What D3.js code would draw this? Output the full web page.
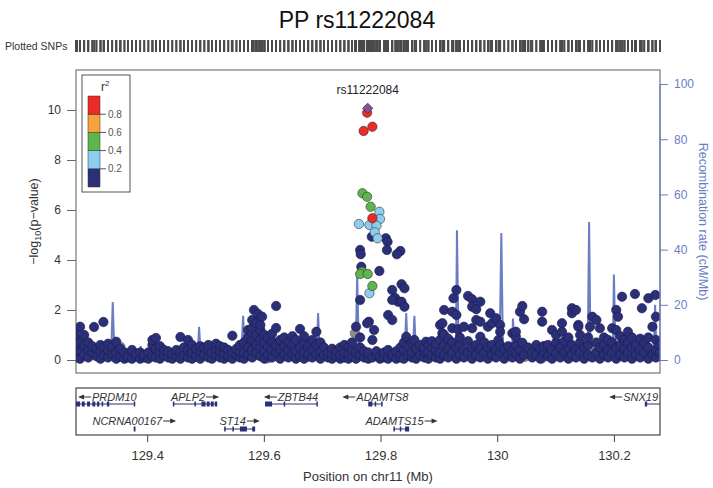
<!DOCTYPE html>
<html>
<head>
<meta charset="utf-8">
<script src="https://cdn.jsdelivr.net/npm/d3@7"></script>
<style>
  body { margin: 0; background: #fff; }
  svg { font-family: "Liberation Sans", Arial, sans-serif; }
</style>
</head>
<body>
<script>
// chart size
var svgWidth = 713;
var svgHeight = 488;

// main panel and gene panel edges
var panel = { left: 76, right: 660, top: 70, bottom: 373 };
var genePanel = { top: 388, bottom: 435 };

// ---- data (Mb, -log10 p) ----
var leadSnp = [129.778, 10.07];
var leadName = "rs11222084";

var ldRed = [[129.777, 9.89], [129.771, 9.16], [129.786, 9.33], [129.786, 5.67]];

var ldGreen = [[129.769, 6.67], [129.777, 6.53], [129.783, 6.13], [129.768, 3.53],
  [129.765, 3.44], [129.778, 3.44], [129.786, 2.96]];

var ldBlue = [[129.798, 5.93], [129.799, 5.64], [129.763, 5.44], [129.781, 5.40],
  [129.793, 5.37], [129.790, 5.11], [129.795, 4.87], [129.781, 2.67]];

var ldGray = [[129.280, 0.6], [129.354, 0.53], [129.354, 0.33], [129.545, 0.2], [129.607, 0.07],
  [129.676, 0.13], [129.756, 1.07], [129.844, 0.63], [130.048, 0.13], [130.057, 0.27],
  [130.053, 0.33], [130.074, 0.4], [130.077, 0.07], [130.159, 0.53], [130.266, 0.27]];

var ldNavyPeak = [[129.785, 4.93], [129.809, 4.87], [129.812, 4.73], [129.765, 4.40],
  [129.766, 4.23], [129.811, 4.40], [129.834, 4.36], [129.828, 4.23], [129.767, 3.73],
  [129.798, 3.56], [129.836, 3.03], [129.841, 2.87], [129.820, 2.80], [129.765, 2.40],
  [129.825, 2.48], [129.830, 2.33], [129.820, 2.40], [129.836, 2.33], [129.841, 2.13],
  [129.813, 1.80], [129.820, 1.60], [129.777, 1.47], [129.925, 2.47]];

var ldNavy = [
  [129.278,0.1],[129.278,0.5],[129.278,0.9],[129.278,1.2],
  [129.285,0.3],[129.285,0.7],[129.285,1.33],[129.285,0.05],
  [129.292,0.2],[129.292,0.6],[129.292,1.0],
  [129.299,0.1],[129.299,0.4],[129.299,0.7],
  [129.306,0.3],[129.306,0.55],[129.309,1.32],
  [129.313,0.15],[129.313,0.45],
  [129.320,0.05],[129.320,0.35],[129.320,0.6],
  [129.325,1.52],[129.326,0.2],[129.326,0.5],
  [129.333,0.1],[129.333,0.4],[129.333,0.65],
  [129.340,0.25],[129.340,0.55],
  [129.347,0.05],[129.347,0.3],[129.347,0.73],
  [129.354,0.15],[129.354,0.45],
  [129.361,0.05],[129.361,0.3],
  [129.367,0.2],[129.367,0.1],
  [129.374,0.05],[129.374,0.4],
  [129.381,0.15],[129.381,0.25],
  [129.388,0.05],[129.388,0.3],
  [129.395,0.1],[129.395,0.2],
  [129.402,0.05],[129.402,0.3],
  [129.409,0.15],[129.409,0.6],[129.409,0.8],
  [129.415,0.1],[129.415,0.45],[129.415,0.88],
  [129.422,0.05],[129.422,0.3],[129.422,0.55],
  [129.429,0.2],[129.429,0.4],
  [129.436,0.1],[129.436,0.35],
  [129.443,0.05],[129.443,0.25],
  [129.450,0.15],[129.450,0.4],
  [129.457,0.05],[129.457,0.3],[129.457,0.92],
  [129.463,0.2],[129.463,0.5],
  [129.470,0.1],[129.470,0.4],[129.470,0.8],
  [129.477,0.05],[129.477,0.3],[129.477,0.6],
  [129.484,0.15],[129.484,0.45],
  [129.491,0.05],[129.491,0.35],[129.491,0.55],
  [129.498,0.2],[129.498,0.5],
  [129.505,0.1],[129.505,0.4],[129.505,0.6],
  [129.511,0.05],[129.511,0.3],
  [129.518,0.2],[129.518,0.45],[129.518,0.65],
  [129.525,0.1],[129.525,0.35],[129.525,0.55],
  [129.532,0.05],[129.532,0.25],[129.532,0.5],
  [129.539,0.15],[129.539,0.4],
  [129.546,0.05],[129.546,0.3],[129.546,0.97],
  [129.553,0.2],[129.553,0.45],
  [129.559,0.1],[129.559,0.35],[129.559,0.6],
  [129.566,0.05],[129.566,0.3],[129.566,0.7],
  [129.573,0.2],[129.573,0.5],[129.573,0.9],[129.573,1.2],
  [129.580,0.1],[129.580,0.4],[129.580,0.8],[129.580,1.1],[129.580,1.28],[129.580,1.6],
  [129.583,2.0],
  [129.587,0.3],[129.587,0.6],[129.587,1.0],[129.587,1.47],
  [129.590,1.84],
  [129.594,0.15],[129.594,0.5],[129.594,0.8],[129.594,1.2],[129.594,1.4],
  [129.597,1.73],
  [129.601,0.05],[129.601,0.35],[129.601,0.7],[129.601,1.0],
  [129.607,0.2],[129.607,0.55],[129.607,0.9],
  [129.614,0.1],[129.614,0.4],[129.614,0.75],[129.614,1.05],
  [129.621,0.3],[129.621,0.6],[129.621,1.28],[129.621,2.16],
  [129.628,0.05],[129.628,0.45],[129.628,0.8],
  [129.635,0.2],[129.635,0.55],[129.635,0.9],
  [129.642,0.1],[129.642,0.4],[129.642,0.7],
  [129.649,0.25],[129.649,0.6],[129.649,0.95],
  [129.655,0.05],[129.655,0.35],[129.655,0.8],
  [129.662,0.15],[129.662,0.5],[129.662,1.24],
  [129.669,0.05],[129.669,0.3],[129.669,0.7],[129.669,0.95],
  [129.676,0.2],[129.676,0.55],
  [129.683,0.1],[129.683,0.4],[129.683,0.8],
  [129.690,0.25],[129.690,0.6],[129.690,1.13],
  [129.697,0.05],[129.697,0.35],[129.697,0.7],
  [129.703,0.2],[129.703,0.5],
  [129.710,0.1],[129.710,0.3],
  [129.717,0.05],[129.717,0.25],[129.717,0.45],
  [129.724,0.15],[129.724,0.35],
  [129.731,0.05],[129.731,0.2],[129.731,0.5],
  [129.738,0.1],[129.738,0.3],[129.738,0.6],
  [129.745,0.05],[129.745,0.25],[129.745,0.53],
  [129.751,0.15],[129.751,0.4],[129.751,0.7],
  [129.758,0.05],[129.758,0.3],[129.758,1.33],
  [129.765,0.2],[129.765,0.5],[129.765,0.9],
  [129.772,0.1],[129.772,0.35],
  [129.779,0.05],[129.779,0.3],[129.780,1.53],
  [129.786,0.1],[129.786,0.8],[129.789,1.2],
  [129.793,0.2],[129.793,0.35],
  [129.799,0.05],[129.799,0.15],
  [129.806,0.1],[129.806,0.3],
  [129.813,0.05],[129.813,0.4],
  [129.820,0.15],[129.820,0.2],
  [129.827,0.05],[129.827,0.35],
  [129.834,0.1],[129.834,0.25],[129.834,0.5],
  [129.840,0.05],[129.840,0.4],[129.840,0.7],
  [129.844,0.93],
  [129.847,0.2],[129.847,0.55],
  [129.854,0.1],[129.854,0.3],[129.854,0.7],
  [129.858,0.8],
  [129.861,0.05],[129.861,0.45],
  [129.868,0.2],[129.868,0.6],
  [129.875,0.1],[129.875,0.35],[129.875,0.5],
  [129.878,0.73],
  [129.882,0.05],[129.882,0.3],[129.882,0.6],
  [129.888,0.2],[129.888,0.5],[129.888,0.75],
  [129.895,0.1],[129.895,0.4],[129.895,0.65],
  [129.902,0.05],[129.902,0.3],[129.902,0.8],[129.902,1.4],
  [129.906,1.07],[129.906,1.47],
  [129.909,0.2],[129.909,0.6],[129.909,1.0],[129.909,2.0],
  [129.916,0.1],[129.916,0.45],[129.916,0.85],
  [129.923,0.3],[129.923,0.7],[129.923,1.27],[129.923,1.93],
  [129.930,0.05],[129.930,0.5],[129.930,1.8],[129.930,2.8],
  [129.933,1.23],
  [129.936,0.2],[129.936,0.6],[129.936,0.9],
  [129.943,0.1],[129.943,0.4],[129.943,1.33],
  [129.950,0.3],[129.950,0.75],[129.950,2.56],
  [129.957,0.05],[129.957,0.5],[129.957,1.27],[129.957,2.43],[129.957,2.13],
  [129.964,0.2],[129.964,0.6],[129.964,1.6],[129.964,2.03],
  [129.971,0.1],[129.971,0.45],[129.971,0.93],[129.971,1.53],[129.971,2.33],
  [129.978,0.3],[129.978,0.7],
  [129.984,0.05],[129.984,0.5],[129.984,1.33],
  [129.988,1.87],
  [129.991,0.2],[129.991,0.6],[129.991,1.47],
  [129.998,0.1],[129.998,0.4],[129.998,1.67],
  [130.002,0.8],
  [130.005,0.3],[130.005,0.6],[130.005,1.4],[130.005,1.13],
  [130.012,0.05],[130.012,0.45],
  [130.019,0.2],[130.019,0.55],
  [130.026,0.1],[130.026,0.35],[130.026,1.07],
  [130.032,0.3],[130.032,0.6],[130.032,0.93],[130.032,1.13],
  [130.039,0.05],[130.039,0.4],[130.039,1.93],
  [130.043,2.16],[130.043,0.69],
  [130.046,0.2],[130.046,1.63],
  [130.053,0.5],
  [130.060,0.1],[130.060,0.3],
  [130.067,0.2],[130.067,0.6],
  [130.074,0.05],[130.074,0.45],
  [130.077,1.93],[130.077,1.53],
  [130.080,0.3],[130.080,0.56],
  [130.087,0.15],[130.087,0.6],
  [130.094,0.05],[130.094,0.4],[130.094,1.2],
  [130.101,0.25],[130.101,0.7],[130.101,1.0],
  [130.108,0.1],[130.108,0.5],
  [130.111,1.47],[130.111,1.13],
  [130.115,0.3],[130.115,0.75],
  [130.122,0.05],[130.122,0.45],[130.122,0.9],
  [130.128,0.2],[130.128,0.6],[130.128,2.07],[130.128,1.87],
  [130.135,0.1],[130.135,0.4],[130.135,2.0],
  [130.139,1.4],[130.139,1.33],
  [130.142,0.3],[130.142,0.7],[130.142,1.0],
  [130.149,0.05],[130.149,0.5],
  [130.156,0.2],[130.156,0.6],[130.156,0.9],
  [130.159,1.33],
  [130.163,0.1],[130.163,1.73],
  [130.170,0.3],[130.170,0.7],[130.170,1.6],
  [130.176,0.05],[130.176,0.5],[130.176,1.27],
  [130.183,0.2],[130.183,0.6],[130.183,0.9],
  [130.190,0.1],[130.190,0.4],[130.190,0.8],
  [130.197,0.3],[130.197,0.7],[130.197,1.27],
  [130.204,0.05],[130.204,0.5],[130.204,2.0],[130.204,1.2],
  [130.207,1.73],
  [130.211,0.2],[130.211,0.6],[130.211,0.95],
  [130.214,2.53],
  [130.218,0.1],[130.218,0.45],[130.218,0.8],
  [130.224,0.3],[130.224,0.7],[130.224,1.13],
  [130.231,0.05],[130.231,0.5],[130.231,0.9],
  [130.236,2.64],
  [130.238,0.2],[130.238,0.6],
  [130.245,0.1],[130.245,0.4],[130.245,0.85],
  [130.248,2.07],
  [130.252,0.3],[130.252,0.7],
  [130.259,0.05],[130.259,0.5],[130.259,2.47],[130.259,0.9],
  [130.266,0.2],[130.266,1.33],
  [130.271,2.6],
  [130.272,0.1],[130.272,0.4],[130.272,1.73],[130.272,0.8],
  [130.279,0.3],[130.279,0.6]
];

// recombination rate (Mb, cM/Mb)
var recombPos = [129.278, 129.338, 129.341, 129.344, 129.386, 129.389, 129.391, 129.392, 129.394,
  129.486, 129.489, 129.492, 129.561, 129.5645, 129.567, 129.600, 129.650, 129.690, 129.693, 129.696,
  129.757, 129.760, 129.763, 129.800, 129.841, 129.844, 129.847, 129.855, 129.858, 129.861,
  129.929, 129.931, 129.934, 130.004, 130.007, 130.010, 130.025, 130.027, 130.030, 130.100,
  130.155, 130.1575, 130.160, 130.198, 130.200, 130.203, 130.268, 130.2706, 130.273, 130.279];
var recombRate = [1.0, 0.8, 21, 0.8, 2, 5, 1, 4, 1,
  0.5, 12, 0.5, 1, 16, 1, 0.3, 0.3, 0.5, 17, 0.5,
  1, 31, 1, 0.5, 1, 17, 1, 1, 16, 1,
  0.5, 47, 0.5, 0.5, 46, 0.5, 1, 15, 1, 1,
  1, 50, 1, 1, 31, 1, 1, 20, 1, 1];

// genes
var geneNames  = ["PRDM10", "APLP2", "ZBTB44", "ADAMTS8", "SNX19", "NCRNA00167", "ST14", "ADAMTS15"];
var geneStart  = [129.278, 129.444, 129.602, 129.779, 130.253, 129.377, 129.532, 129.823];
var geneEnd    = [129.379, 129.520, 129.691, 129.803, 130.320, 129.379, 129.585, 129.849];
var geneStrand = ["-", "+", "-", "-", "-", "+", "+", "+"];
var geneRow    = [0, 0, 0, 0, 0, 1, 1, 1];
var geneExons  = [
  [[129.278,129.285],[129.288,129.293],[129.297,129.302],[129.306,129.311],[129.314,129.318],[129.322,129.324],[129.331,129.335],[129.377,129.379]],
  [[129.444,129.446],[129.481,129.483],[129.493,129.500],[129.502,129.507],[129.509,129.514],[129.516,129.520]],
  [[129.602,129.614],[129.634,129.636],[129.690,129.691]],
  [[129.779,129.786],[129.790,129.792],[129.801,129.803]],
  [[130.253,130.257]],
  [[129.377,129.380]],
  [[129.532,129.533],[129.546,129.548],[129.559,129.571],[129.580,129.585]],
  [[129.822,129.824],[129.833,129.835],[129.842,129.849]]
];

// ticks and legend
var leftTicks = [0, 2, 4, 6, 8, 10];
var rightTicks = [0, 20, 40, 60, 80, 100];
var xTicks = [129.4, 129.6, 129.8, 130, 130.2];
var ldColors = ["#2b2f78", "#8ccdf0", "#5db54b", "#f6a43a", "#ec2a26"];
var ldBreaks = ["0.2", "0.4", "0.6", "0.8"];

// ---- scales ----
var xScale = d3.scaleLinear().domain([129.278, 130.279]).range([panel.left, panel.right]);
var yScale = d3.scaleLinear().domain([-0.52, 11.6]).range([panel.bottom, panel.top]);
var yRecomb = d3.scaleLinear().domain([-4.71, 105.1]).range([panel.bottom, panel.top]);

var svg = d3.select("body").append("svg")
  .attr("width", svgWidth)
  .attr("height", svgHeight);

var defs = svg.append("defs");
defs.append("clipPath").attr("id", "clipMain")
  .append("rect")
  .attr("x", panel.left).attr("y", panel.top)
  .attr("width", panel.right - panel.left).attr("height", panel.bottom - panel.top);
defs.append("clipPath").attr("id", "clipGene")
  .append("rect")
  .attr("x", panel.left).attr("y", genePanel.top)
  .attr("width", panel.right - panel.left).attr("height", genePanel.bottom - genePanel.top);

// title
svg.append("text")
  .attr("x", 357).attr("y", 28)
  .attr("text-anchor", "middle")
  .style("font-size", "23px")
  .attr("fill", "#111")
  .text("PP rs11222084");

// plotted SNPs rug
var allSnps = [].concat(ldNavy, ldNavyPeak, ldGray, ldBlue, ldGreen, ldRed, [leadSnp]);
svg.append("text")
  .attr("x", 5).attr("y", 50)
  .style("font-size", "10.5px")
  .attr("fill", "#333")
  .text("Plotted SNPs");
svg.append("g").selectAll("line")
  .data(allSnps)
  .enter().append("line")
  .attr("x1", d => xScale(d[0])).attr("x2", d => xScale(d[0]))
  .attr("y1", 40).attr("y2", 52)
  .attr("stroke", "#4a4a4a")
  .attr("stroke-width", 1.8);

// main panel box
svg.append("rect")
  .attr("x", panel.left).attr("y", panel.top)
  .attr("width", panel.right - panel.left).attr("height", panel.bottom - panel.top)
  .attr("fill", "none").attr("stroke", "#777").attr("stroke-width", 1.2);

var plot = svg.append("g").attr("clip-path", "url(#clipMain)");

// recombination line
var recombLine = d3.line()
  .x((d, i) => xScale(recombPos[i]))
  .y(d => yRecomb(d));
plot.append("path")
  .datum(recombRate)
  .attr("d", recombLine)
  .attr("fill", "none")
  .attr("stroke", "#6b7dc4")
  .attr("stroke-width", 2);

// points
function drawPoints(data, fill, stroke) {
  plot.append("g").selectAll("circle")
    .data(data)
    .enter().append("circle")
    .attr("cx", d => xScale(d[0]))
    .attr("cy", d => yScale(d[1]))
    .attr("r", 4.7)
    .attr("fill", fill)
    .attr("stroke", stroke)
    .attr("stroke-width", 0.6);
}
drawPoints(ldGray, "#8c8c8c", "#555");
drawPoints(ldNavy, ldColors[0], "#1a1c4a");
drawPoints(ldNavyPeak, ldColors[0], "#1a1c4a");
drawPoints(ldBlue, ldColors[1], "#333");
drawPoints(ldGreen, ldColors[2], "#333");
drawPoints(ldRed, ldColors[4], "#333");

// lead snp as a diamond (rotated square)
plot.append("path")
  .attr("d", d3.symbol().type(d3.symbolSquare).size(52)())
  .attr("transform", `translate(${xScale(leadSnp[0])},${yScale(leadSnp[1])}) rotate(45)`)
  .attr("fill", "#7d52a3")
  .attr("stroke", "#333")
  .attr("stroke-width", 0.7);

svg.append("text")
  .attr("x", xScale(leadSnp[0])).attr("y", yScale(leadSnp[1]) - 14)
  .attr("text-anchor", "middle")
  .style("font-size", "12px")
  .attr("fill", "#222")
  .text(leadName);

// left axis
var leftAxis = svg.append("g")
  .attr("transform", `translate(${panel.left},0)`)
  .call(d3.axisLeft(yScale).tickValues(leftTicks).tickSize(9).tickPadding(6));
leftAxis.select(".domain").remove();
leftAxis.selectAll("line").attr("stroke", "#666");
leftAxis.selectAll("text").style("font-size", "12px").attr("fill", "#333");

svg.append("text")
  .attr("transform", `translate(38,${(panel.top + panel.bottom) / 2}) rotate(-90)`)
  .attr("text-anchor", "middle")
  .style("font-size", "12.5px")
  .attr("fill", "#333")
  .call(t => {
    t.append("tspan").text("\u2212log");
    t.append("tspan").attr("dy", 3).style("font-size", "9px").text("10");
    t.append("tspan").attr("dy", -3).text("(p\u2212value)");
  });

// right axis
var rightAxis = svg.append("g")
  .attr("transform", `translate(${panel.right},0)`)
  .call(d3.axisRight(yRecomb).tickValues(rightTicks).tickSize(8).tickPadding(6));
rightAxis.select(".domain").remove();
rightAxis.selectAll("line").attr("stroke", "#6b7dc4");
rightAxis.selectAll("text").style("font-size", "12px").attr("fill", "#6b7dc4");
rightAxis.append("line")
  .attr("x1", 0).attr("x2", 0)
  .attr("y1", yRecomb(0)).attr("y2", yRecomb(100))
  .attr("stroke", "#6b7dc4").attr("stroke-width", 1.2);

svg.append("text")
  .attr("transform", `translate(699,${(panel.top + panel.bottom) / 2}) rotate(90)`)
  .attr("text-anchor", "middle")
  .style("font-size", "12.5px")
  .attr("fill", "#6b7dc4")
  .text("Recombination rate (cM/Mb)");

// legend
var legend = svg.append("g");
legend.append("rect")
  .attr("x", 82).attr("y", 75).attr("width", 48).attr("height", 117)
  .attr("fill", "#fff").attr("stroke", "#555").attr("stroke-width", 1);
legend.append("text")
  .attr("x", 101).attr("y", 91)
  .style("font-size", "12px").attr("fill", "#333")
  .call(t => {
    t.append("tspan").text("r");
    t.append("tspan").attr("dy", -5).style("font-size", "8px").text("2");
  });
var legScale = d3.scaleLinear().domain([0, 5]).range([187, 96]);
legend.selectAll(".ldbox")
  .data(ldColors)
  .enter().append("rect")
  .attr("x", 88).attr("width", 12)
  .attr("y", (d, i) => legScale(i + 1))
  .attr("height", (d, i) => legScale(i) - legScale(i + 1))
  .attr("fill", d => d)
  .attr("stroke", "#333").attr("stroke-width", 0.5);
legend.selectAll(".ldtick")
  .data(ldBreaks)
  .enter().append("line")
  .attr("x1", 100).attr("x2", 106)
  .attr("y1", (d, i) => legScale(i + 1)).attr("y2", (d, i) => legScale(i + 1))
  .attr("stroke", "#555");
legend.selectAll(".ldlab")
  .data(ldBreaks)
  .enter().append("text")
  .attr("x", 108).attr("y", (d, i) => legScale(i + 1) + 3.5)
  .style("font-size", "10px").attr("fill", "#555")
  .text(d => d);

// gene panel
svg.append("rect")
  .attr("x", panel.left).attr("y", genePanel.top)
  .attr("width", panel.right - panel.left).attr("height", genePanel.bottom - genePanel.top)
  .attr("fill", "none").attr("stroke", "#444").attr("stroke-width", 1.2);

var genes = svg.append("g").attr("clip-path", "url(#clipGene)");
var rowLineY = [404, 429];
var rowLabelY = [401, 425];
var arrowLen = 13;

geneNames.forEach(function(name, i) {
  var yLine = rowLineY[geneRow[i]];
  var yText = rowLabelY[geneRow[i]];
  genes.append("line")
    .attr("x1", xScale(geneStart[i])).attr("x2", xScale(geneEnd[i]))
    .attr("y1", yLine).attr("y2", yLine)
    .attr("stroke", "#2b2f78").attr("stroke-width", 1);
  geneExons[i].forEach(function(ex) {
    genes.append("rect")
      .attr("x", xScale(ex[0]))
      .attr("width", Math.max(1.5, xScale(ex[1]) - xScale(ex[0])))
      .attr("y", yLine - 2.5).attr("height", 5)
      .attr("fill", "#2b2f78");
  });
  var label = genes.append("text")
    .attr("y", yText)
    .style("font-size", "11px")
    .style("font-style", "italic")
    .attr("fill", "#333")
    .text(name);
  var w = label.node().getComputedTextLength();
  var total = w + arrowLen + 1;
  var cx = xScale((geneStart[i] + geneEnd[i]) / 2);
  cx = Math.min(Math.max(cx, panel.left + 2 + total / 2), panel.right - 2 - total / 2);
  var x0 = cx - total / 2;
  var ay = yText - 4;
  var ax0, ax1, tip;
  if (geneStrand[i] === "-") {
    label.attr("x", x0 + arrowLen + 1);
    ax0 = x0; ax1 = x0 + arrowLen; tip = -1;
    genes.append("line").attr("x1", ax0 + 4).attr("x2", ax1).attr("y1", ay).attr("y2", ay)
      .attr("stroke", "#333").attr("stroke-width", 1);
    genes.append("path")
      .attr("d", `M${ax0},${ay} L${ax0 + 6},${ay - 2.6} L${ax0 + 6},${ay + 2.6} Z`)
      .attr("fill", "#333");
  } else {
    label.attr("x", x0);
    ax0 = x0 + w + 1; ax1 = ax0 + arrowLen;
    genes.append("line").attr("x1", ax0).attr("x2", ax1 - 4).attr("y1", ay).attr("y2", ay)
      .attr("stroke", "#333").attr("stroke-width", 1);
    genes.append("path")
      .attr("d", `M${ax1},${ay} L${ax1 - 6},${ay - 2.6} L${ax1 - 6},${ay + 2.6} Z`)
      .attr("fill", "#333");
  }
});

// bottom axis
var bottomAxis = svg.append("g")
  .attr("transform", `translate(0,${genePanel.bottom})`)
  .call(d3.axisBottom(xScale).tickValues(xTicks).tickSize(7).tickPadding(9)
    .tickFormat(d => String(+d.toFixed(1))));
bottomAxis.select(".domain").remove();
bottomAxis.selectAll("line").attr("stroke", "#444");
bottomAxis.selectAll("text").style("font-size", "13px").attr("fill", "#333");

svg.append("text")
  .attr("x", (panel.left + panel.right) / 2).attr("y", 481)
  .attr("text-anchor", "middle")
  .style("font-size", "13px")
  .attr("fill", "#333")
  .text("Position on chr11 (Mb)");
</script>
</body>
</html>
